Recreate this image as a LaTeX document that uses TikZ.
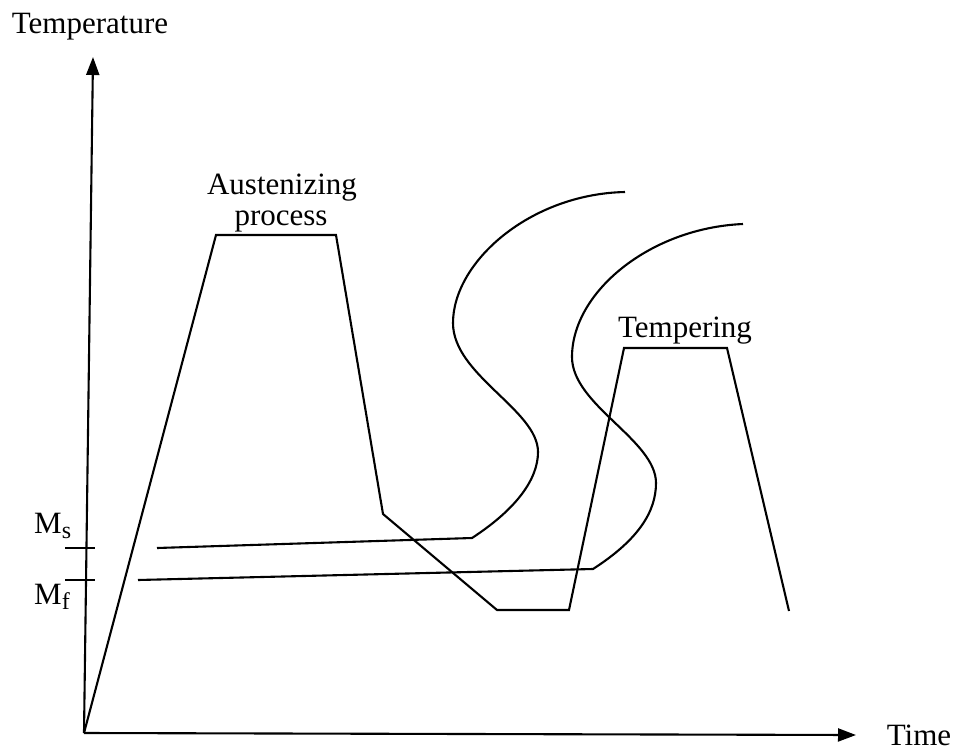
\documentclass[tikz,border=0pt]{standalone}
\usepackage{fontspec}
\setmainfont{Liberation Serif}
\usetikzlibrary{arrows.meta}
\begin{document}
\begin{tikzpicture}[x=1pt,y=-1pt,
  lbl/.style={inner sep=0pt,font=\fontsize{31}{34}\selectfont},
  ln/.style={line width=2.1pt,line join=miter},
  axis/.style={line width=2.1pt,-{Triangle[length=18pt,width=13pt]}}]
\useasboundingbox (0,0) rectangle (959,750);
% axes
\coordinate (O) at (84,733);
\coordinate (ytip) at (93,57);
\coordinate (xtip) at (856,735);
\draw[axis] (O) -- (ytip);
\draw[axis] (O) -- (xtip);
\node[lbl,anchor=base] (temp) at (90,33) {Temperature};
\node[lbl,anchor=base] (time) at (919,745) {Time};
% ticks
\coordinate (ms1) at (65,548); \coordinate (ms2) at (95,548);
\coordinate (mf1) at (65,580); \coordinate (mf2) at (95,580);
\draw[ln] (ms1) -- (ms2);
\draw[ln] (mf1) -- (mf2);
\node[lbl,anchor=base west] (Ms) at (34,533) {M{\fontsize{24}{26}\selectfont\raisebox{-5pt}{s}}};
\node[lbl,anchor=base west] (Mf) at (34,604) {M{\fontsize{24}{26}\selectfont\raisebox{-5pt}{f}}};
% heat treatment path
\coordinate (a1) at (216,235); \coordinate (a2) at (336,235);
\coordinate (a3) at (383,514); \coordinate (a4) at (497,610);
\coordinate (a5) at (569,610); \coordinate (a6) at (624,348);
\coordinate (a7) at (727,348); \coordinate (a8) at (789,611);
\draw[ln] (O) -- (a1) -- (a2) -- (a3) -- (a4) -- (a5) -- (a6) -- (a7) -- (a8);
\node[lbl,anchor=base] (aus) at (282,194) {Austenizing};
\node[lbl,anchor=base] (proc) at (281,225) {process};
\node[lbl,anchor=base] (temper) at (685,337) {Tempering};
% Ms / Mf lines and S curves
\coordinate (s0) at (157,548); \coordinate (s1) at (472,538);
\coordinate (s2) at (538,452); \coordinate (s3) at (453,323);
\coordinate (s4) at (625,192);
\draw[ln] (s0) -- (s1) .. controls (515,510) and (538,480) .. (s2)
  .. controls (538,410) and (453,375) .. (s3)
  .. controls (453,262) and (530,194) .. (s4);
\coordinate (f0) at (138,580); \coordinate (f1) at (593,569);
\coordinate (f2) at (656,483); \coordinate (f3) at (572,357);
\coordinate (f4) at (743,224);
\draw[ln] (f0) -- (f1) .. controls (638,540) and (656,512) .. (f2)
  .. controls (656,440) and (572,405) .. (f3)
  .. controls (572,292) and (650,228) .. (f4);
\end{tikzpicture}
\end{document}
